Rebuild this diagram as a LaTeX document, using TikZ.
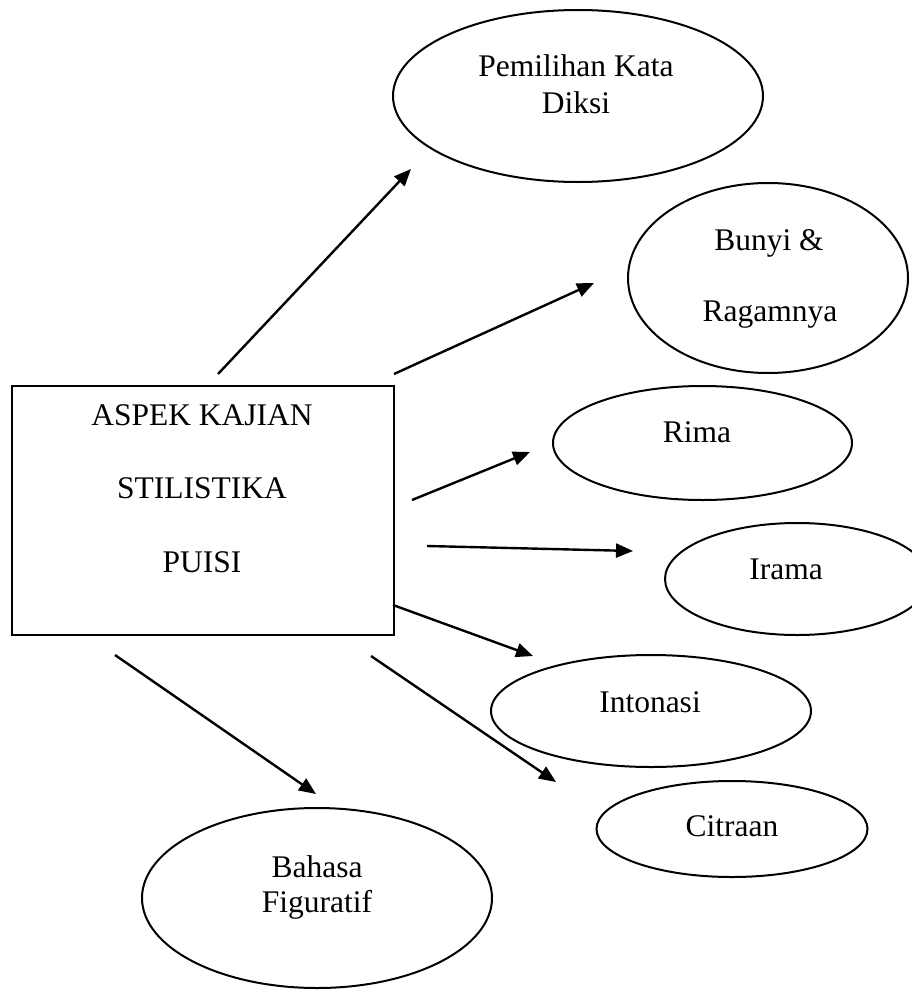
\documentclass[tikz,border=0pt]{standalone}
\usepackage{fontspec}
\setmainfont{Liberation Serif}
\usetikzlibrary{arrows.meta,shapes.geometric}
\tikzset{
  oval/.style={draw=black, line width=2pt, ellipse, inner sep=0pt},
  box/.style={draw=black, line width=2.6pt, rectangle, inner sep=0pt},
  lbl/.style={anchor=base, inner sep=0pt, font=\fontsize{31.5}{36}\selectfont},
  arr/.style={line width=2.4pt, -{Triangle[length=17pt,width=14pt]}}
}
\begin{document}
\begin{tikzpicture}[x=1pt,y=-1pt]
\useasboundingbox (0,0) rectangle (912,990);
\clip (0,0) rectangle (912,990);
% central box
\node[box, minimum width=382pt, minimum height=249pt] (M) at (203,510.5) {};
\node[lbl] (M1) at (202,425) {ASPEK KAJIAN};
\node[lbl] (M2) at (202,498) {STILISTIKA};
\node[lbl] (M3) at (202,572) {PUISI};
% ellipses
\node[oval, minimum width=370pt, minimum height=172pt] (P) at (578,96) {};
\node[lbl] (P1) at (576,76) {Pemilihan Kata};
\node[lbl] (P2) at (576,113) {Diksi};
\node[oval, minimum width=280pt, minimum height=190pt] (B) at (768,278) {};
\node[lbl] (B1) at (769,250) {Bunyi \&};
\node[lbl] (B2) at (770,321) {Ragamnya};
\node[oval, minimum width=299pt, minimum height=114pt] (R) at (702.5,443) {};
\node[lbl] (R1) at (697,442) {Rima};
\node[oval, minimum width=264pt, minimum height=112pt] (I) at (797,579) {};
\node[lbl] (I1) at (786,579) {Irama};
\node[oval, minimum width=320pt, minimum height=112pt] (N) at (651,711) {};
\node[lbl] (N1) at (650,712) {Intonasi};
\node[oval, minimum width=271pt, minimum height=96pt] (C) at (732,829) {};
\node[lbl] (C1) at (732,836) {Citraan};
\node[oval, minimum width=350pt, minimum height=180pt] (F) at (317,898) {};
\node[lbl] (F1) at (317,877) {Bahasa};
\node[lbl] (F2) at (317,912) {Figuratif};
% arrow end points
\coordinate (s1) at (218,374);  \coordinate (e1) at (411,169);
\coordinate (s2) at (394,374);  \coordinate (e2) at (594,283);
\coordinate (s3) at (412,500);  \coordinate (e3) at (530,452);
\coordinate (s4) at (427,546);  \coordinate (e4) at (633,551);
\coordinate (s5) at (393,605);  \coordinate (e5) at (533,656);
\coordinate (s6) at (371,656);  \coordinate (e6) at (556,782);
\coordinate (s7) at (115,655);  \coordinate (e7) at (316,794);
\draw[arr] (s1) -- (e1);
\draw[arr] (s2) -- (e2);
\draw[arr] (s3) -- (e3);
\draw[arr] (s4) -- (e4);
\draw[arr] (s5) -- (e5);
\draw[arr] (s6) -- (e6);
\draw[arr] (s7) -- (e7);
\end{tikzpicture}
\end{document}
